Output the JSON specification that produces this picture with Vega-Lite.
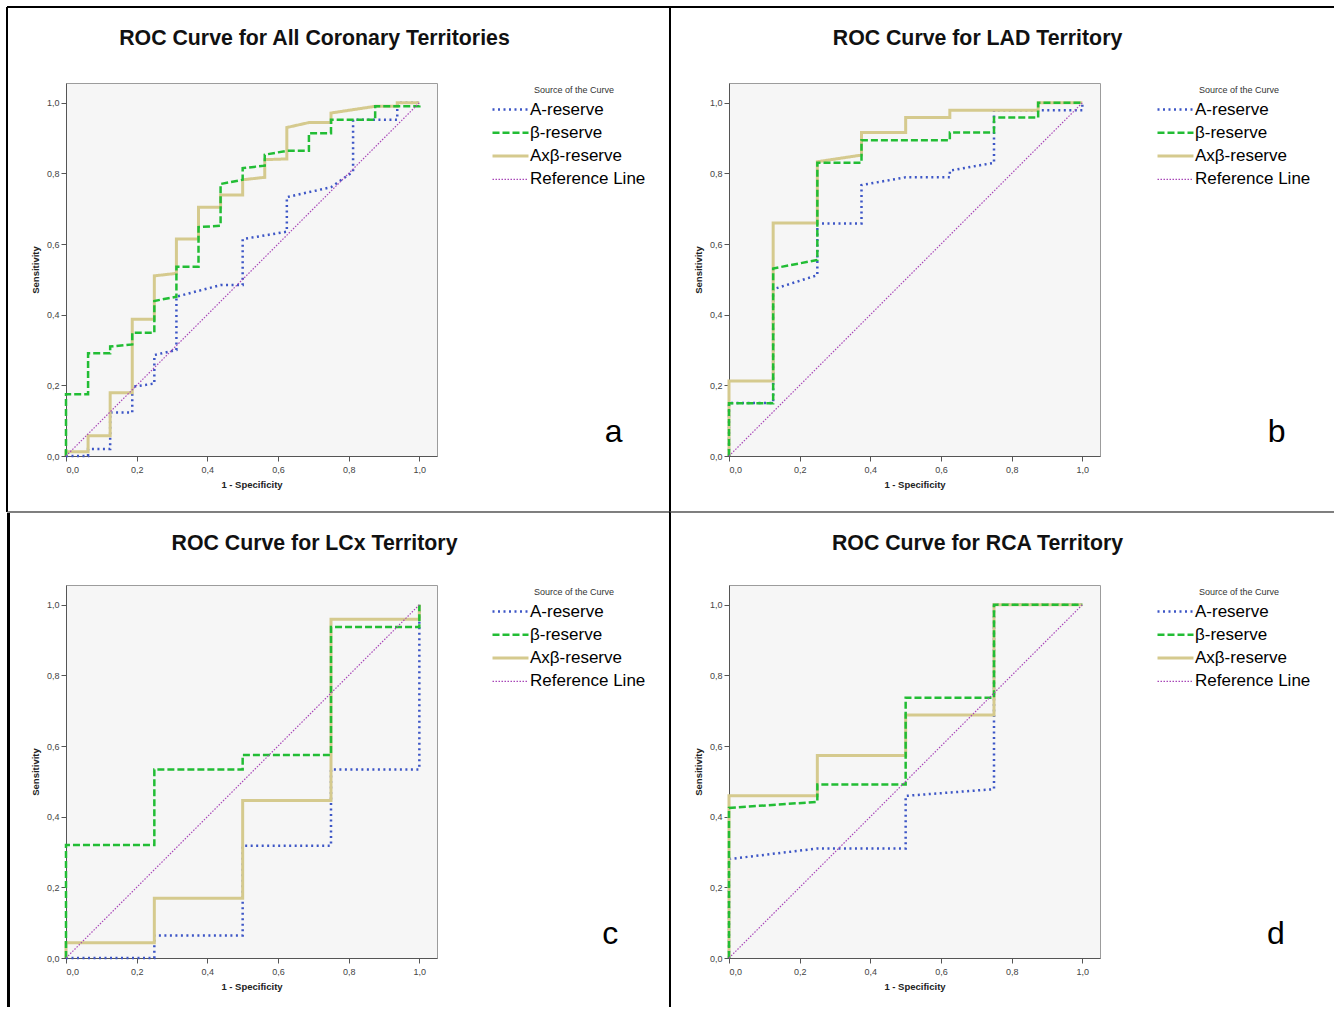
{
  "$schema": "https://vega.github.io/schema/vega-lite/v6.json",
  "background": "white",
  "padding": {"left": 5, "top": 5, "right": 0, "bottom": 0},
  "spacing": -4,
  "bounds": "full",
  "datasets": {
    "a": [
      {"s":"A-reserve","x":0,"y":0},{"s":"A-reserve","x":0.0625,"y":0},{"s":"A-reserve","x":0.0625,"y":0.02},{"s":"A-reserve","x":0.125,"y":0.02},{"s":"A-reserve","x":0.125,"y":0.123},{"s":"A-reserve","x":0.1875,"y":0.123},{"s":"A-reserve","x":0.1875,"y":0.196},{"s":"A-reserve","x":0.25,"y":0.205},{"s":"A-reserve","x":0.25,"y":0.286},{"s":"A-reserve","x":0.3125,"y":0.3},{"s":"A-reserve","x":0.3125,"y":0.451},{"s":"A-reserve","x":0.4375,"y":0.484},{"s":"A-reserve","x":0.5,"y":0.484},{"s":"A-reserve","x":0.5,"y":0.614},{"s":"A-reserve","x":0.625,"y":0.635},{"s":"A-reserve","x":0.625,"y":0.733},{"s":"A-reserve","x":0.75,"y":0.761},{"s":"A-reserve","x":0.8125,"y":0.805},{"s":"A-reserve","x":0.8125,"y":0.952},{"s":"A-reserve","x":0.9375,"y":0.952},{"s":"A-reserve","x":0.9375,"y":1},{"s":"A-reserve","x":1,"y":1},
      {"s":"Axβ-reserve","x":0,"y":0},{"s":"Axβ-reserve","x":0,"y":0.012},{"s":"Axβ-reserve","x":0.0625,"y":0.012},{"s":"Axβ-reserve","x":0.0625,"y":0.057},{"s":"Axβ-reserve","x":0.125,"y":0.057},{"s":"Axβ-reserve","x":0.125,"y":0.179},{"s":"Axβ-reserve","x":0.1875,"y":0.179},{"s":"Axβ-reserve","x":0.1875,"y":0.387},{"s":"Axβ-reserve","x":0.25,"y":0.387},{"s":"Axβ-reserve","x":0.25,"y":0.51},{"s":"Axβ-reserve","x":0.3125,"y":0.517},{"s":"Axβ-reserve","x":0.3125,"y":0.614},{"s":"Axβ-reserve","x":0.375,"y":0.614},{"s":"Axβ-reserve","x":0.375,"y":0.704},{"s":"Axβ-reserve","x":0.4375,"y":0.704},{"s":"Axβ-reserve","x":0.4375,"y":0.739},{"s":"Axβ-reserve","x":0.5,"y":0.739},{"s":"Axβ-reserve","x":0.5,"y":0.782},{"s":"Axβ-reserve","x":0.5625,"y":0.789},{"s":"Axβ-reserve","x":0.5625,"y":0.839},{"s":"Axβ-reserve","x":0.625,"y":0.841},{"s":"Axβ-reserve","x":0.625,"y":0.93},{"s":"Axβ-reserve","x":0.6875,"y":0.944},{"s":"Axβ-reserve","x":0.75,"y":0.944},{"s":"Axβ-reserve","x":0.75,"y":0.971},{"s":"Axβ-reserve","x":0.875,"y":0.99},{"s":"Axβ-reserve","x":0.9375,"y":0.99},{"s":"Axβ-reserve","x":0.9375,"y":1},{"s":"Axβ-reserve","x":1,"y":1},
      {"s":"β-reserve","x":0,"y":0},{"s":"β-reserve","x":0,"y":0.175},{"s":"β-reserve","x":0.0625,"y":0.175},{"s":"β-reserve","x":0.0625,"y":0.291},{"s":"β-reserve","x":0.125,"y":0.291},{"s":"β-reserve","x":0.125,"y":0.31},{"s":"β-reserve","x":0.1875,"y":0.316},{"s":"β-reserve","x":0.1875,"y":0.349},{"s":"β-reserve","x":0.25,"y":0.349},{"s":"β-reserve","x":0.25,"y":0.439},{"s":"β-reserve","x":0.3125,"y":0.451},{"s":"β-reserve","x":0.3125,"y":0.536},{"s":"β-reserve","x":0.375,"y":0.536},{"s":"β-reserve","x":0.375,"y":0.648},{"s":"β-reserve","x":0.4375,"y":0.652},{"s":"β-reserve","x":0.4375,"y":0.77},{"s":"β-reserve","x":0.5,"y":0.782},{"s":"β-reserve","x":0.5,"y":0.815},{"s":"β-reserve","x":0.5625,"y":0.822},{"s":"β-reserve","x":0.5625,"y":0.853},{"s":"β-reserve","x":0.625,"y":0.864},{"s":"β-reserve","x":0.6875,"y":0.864},{"s":"β-reserve","x":0.6875,"y":0.914},{"s":"β-reserve","x":0.75,"y":0.914},{"s":"β-reserve","x":0.75,"y":0.952},{"s":"β-reserve","x":0.875,"y":0.952},{"s":"β-reserve","x":0.875,"y":0.99},{"s":"β-reserve","x":1,"y":0.99},{"s":"β-reserve","x":1,"y":1},
      {"s":"Reference Line","x":0,"y":0},{"s":"Reference Line","x":1,"y":1}
    ],
    "b": [
      {"s":"A-reserve","x":0,"y":0},{"s":"A-reserve","x":0,"y":0.15},{"s":"A-reserve","x":0.125,"y":0.15},{"s":"A-reserve","x":0.125,"y":0.472},{"s":"A-reserve","x":0.25,"y":0.512},{"s":"A-reserve","x":0.25,"y":0.658},{"s":"A-reserve","x":0.375,"y":0.658},{"s":"A-reserve","x":0.375,"y":0.767},{"s":"A-reserve","x":0.5,"y":0.789},{"s":"A-reserve","x":0.625,"y":0.789},{"s":"A-reserve","x":0.625,"y":0.808},{"s":"A-reserve","x":0.75,"y":0.83},{"s":"A-reserve","x":0.75,"y":0.979},{"s":"A-reserve","x":1,"y":0.979},{"s":"A-reserve","x":1,"y":1},
      {"s":"Axβ-reserve","x":0,"y":0},{"s":"Axβ-reserve","x":0,"y":0.212},{"s":"Axβ-reserve","x":0.125,"y":0.212},{"s":"Axβ-reserve","x":0.125,"y":0.66},{"s":"Axβ-reserve","x":0.25,"y":0.66},{"s":"Axβ-reserve","x":0.25,"y":0.833},{"s":"Axβ-reserve","x":0.375,"y":0.852},{"s":"Axβ-reserve","x":0.375,"y":0.916},{"s":"Axβ-reserve","x":0.5,"y":0.916},{"s":"Axβ-reserve","x":0.5,"y":0.958},{"s":"Axβ-reserve","x":0.625,"y":0.958},{"s":"Axβ-reserve","x":0.625,"y":0.979},{"s":"Axβ-reserve","x":0.875,"y":0.979},{"s":"Axβ-reserve","x":0.875,"y":1},{"s":"Axβ-reserve","x":1,"y":1},
      {"s":"β-reserve","x":0,"y":0},{"s":"β-reserve","x":0,"y":0.149},{"s":"β-reserve","x":0.125,"y":0.149},{"s":"β-reserve","x":0.125,"y":0.531},{"s":"β-reserve","x":0.25,"y":0.555},{"s":"β-reserve","x":0.25,"y":0.83},{"s":"β-reserve","x":0.375,"y":0.83},{"s":"β-reserve","x":0.375,"y":0.894},{"s":"β-reserve","x":0.625,"y":0.894},{"s":"β-reserve","x":0.625,"y":0.916},{"s":"β-reserve","x":0.75,"y":0.916},{"s":"β-reserve","x":0.75,"y":0.958},{"s":"β-reserve","x":0.875,"y":0.958},{"s":"β-reserve","x":0.875,"y":1},{"s":"β-reserve","x":1,"y":1},
      {"s":"Reference Line","x":0,"y":0},{"s":"Reference Line","x":1,"y":1}
    ],
    "c": [
      {"s":"A-reserve","x":0,"y":0},{"s":"A-reserve","x":0.25,"y":0},{"s":"A-reserve","x":0.25,"y":0.064},{"s":"A-reserve","x":0.5,"y":0.064},{"s":"A-reserve","x":0.5,"y":0.318},{"s":"A-reserve","x":0.75,"y":0.318},{"s":"A-reserve","x":0.75,"y":0.534},{"s":"A-reserve","x":1,"y":0.534},{"s":"A-reserve","x":1,"y":1},
      {"s":"Axβ-reserve","x":0,"y":0},{"s":"Axβ-reserve","x":0,"y":0.043},{"s":"Axβ-reserve","x":0.25,"y":0.043},{"s":"Axβ-reserve","x":0.25,"y":0.169},{"s":"Axβ-reserve","x":0.5,"y":0.169},{"s":"Axβ-reserve","x":0.5,"y":0.446},{"s":"Axβ-reserve","x":0.75,"y":0.446},{"s":"Axβ-reserve","x":0.75,"y":0.959},{"s":"Axβ-reserve","x":1,"y":0.959},{"s":"Axβ-reserve","x":1,"y":1},
      {"s":"β-reserve","x":0,"y":0},{"s":"β-reserve","x":0,"y":0.32},{"s":"β-reserve","x":0.25,"y":0.32},{"s":"β-reserve","x":0.25,"y":0.534},{"s":"β-reserve","x":0.5,"y":0.534},{"s":"β-reserve","x":0.5,"y":0.575},{"s":"β-reserve","x":0.75,"y":0.575},{"s":"β-reserve","x":0.75,"y":0.937},{"s":"β-reserve","x":1,"y":0.937},{"s":"β-reserve","x":1,"y":1},
      {"s":"Reference Line","x":0,"y":0},{"s":"Reference Line","x":1,"y":1}
    ],
    "d": [
      {"s":"A-reserve","x":0,"y":0},{"s":"A-reserve","x":0,"y":0.28},{"s":"A-reserve","x":0.25,"y":0.31},{"s":"A-reserve","x":0.5,"y":0.31},{"s":"A-reserve","x":0.5,"y":0.459},{"s":"A-reserve","x":0.75,"y":0.478},{"s":"A-reserve","x":0.75,"y":1},{"s":"A-reserve","x":1,"y":1},
      {"s":"Axβ-reserve","x":0,"y":0},{"s":"Axβ-reserve","x":0,"y":0.459},{"s":"Axβ-reserve","x":0.25,"y":0.459},{"s":"Axβ-reserve","x":0.25,"y":0.573},{"s":"Axβ-reserve","x":0.5,"y":0.573},{"s":"Axβ-reserve","x":0.5,"y":0.688},{"s":"Axβ-reserve","x":0.75,"y":0.688},{"s":"Axβ-reserve","x":0.75,"y":1},{"s":"Axβ-reserve","x":1,"y":1},
      {"s":"β-reserve","x":0,"y":0},{"s":"β-reserve","x":0,"y":0.425},{"s":"β-reserve","x":0.25,"y":0.442},{"s":"β-reserve","x":0.25,"y":0.491},{"s":"β-reserve","x":0.5,"y":0.491},{"s":"β-reserve","x":0.5,"y":0.737},{"s":"β-reserve","x":0.75,"y":0.737},{"s":"β-reserve","x":0.75,"y":1},{"s":"β-reserve","x":1,"y":1},
      {"s":"Reference Line","x":0,"y":0},{"s":"Reference Line","x":1,"y":1}
    ]
  },
  "vconcat": [
    {
      "spacing": -4,
      "hconcat": [
        {
          "width": 371, "height": 373,
          "data": {"name": "a"},
          "title": {"text": "ROC Curve for All Coronary Territories", "dx": 63, "dy": 47},
          "layer": [
            {
              "mark": {"type": "line"},
              "encoding": {
                "x": {"field": "x", "type": "quantitative", "scale": {"domain": [0, 1.05], "nice": false, "zero": false}, "axis": {"title": "1 - Specificity", "values": [0, 0.2, 0.4, 0.6, 0.8, 1], "labelExpr": "replace(format(datum.value, '.1f'), '.', ',')"}},
                "y": {"field": "y", "type": "quantitative", "scale": {"domain": [0, 1.056], "nice": false, "zero": false}, "axis": {"title": "Sensitivity", "values": [0, 0.2, 0.4, 0.6, 0.8, 1], "labelExpr": "replace(format(datum.value, '.1f'), '.', ',')"}},
                "color": {"field": "s", "type": "nominal", "scale": {"domain": ["A-reserve", "β-reserve", "Axβ-reserve", "Reference Line"], "range": ["#3d56c6", "#22bd35", "#d5ca8e", "#a847b8"]}, "legend": {"title": "Source of the Curve", "orient": "none", "legendX": 436, "legendY": 3}},
                "strokeDash": {"field": "s", "type": "nominal", "scale": {"domain": ["A-reserve", "β-reserve", "Axβ-reserve", "Reference Line"], "range": [[2, 3.5], [7, 3], [1, 0], [1.5, 1.5]]}, "legend": {"title": "Source of the Curve", "orient": "none", "legendX": 436, "legendY": 3}},
                "strokeWidth": {"field": "s", "type": "nominal", "scale": {"type": "ordinal", "domain": ["A-reserve", "β-reserve", "Axβ-reserve", "Reference Line"], "range": [2.5, 2.5, 3, 1.2]}, "legend": {"title": "Source of the Curve", "orient": "none", "legendX": 436, "legendY": 3}},
                "order": {"value": null}
              }
            },
            {"data": {"values": [{}]}, "mark": {"type": "text", "fontSize": 32, "color": "#000", "align": "center", "baseline": "middle"}, "encoding": {"x": {"datum": 1.55}, "y": {"datum": 0.068}, "text": {"value": "a"}}},
            {"data": {"values": [{}]}, "mark": {"type": "rule", "color": "#000", "strokeWidth": 2}, "encoding": {"x": {"datum": -0.16698}, "x2": {"datum": 1.70943}, "y": {"datum": 1.27117}}},
            {"data": {"values": [{}]}, "mark": {"type": "rule", "color": "#000", "strokeWidth": 2}, "encoding": {"x": {"datum": -0.16698}, "y": {"datum": 1.27117}, "y2": {"datum": -0.15854}}},
            {"data": {"values": [{}]}, "mark": {"type": "rule", "color": "#000", "strokeWidth": 2}, "encoding": {"x": {"datum": 1.70943}, "y": {"datum": 1.27117}, "y2": {"datum": -0.15854}}},
            {"data": {"values": [{}]}, "mark": {"type": "rule", "color": "#555", "strokeWidth": 1}, "encoding": {"x": {"datum": -0.16698}, "x2": {"datum": 1.70943}, "y": {"datum": -0.15854}}}
          ]
        },
        {
          "width": 371, "height": 373,
          "data": {"name": "b"},
          "title": {"text": "ROC Curve for LAD Territory", "dx": 63, "dy": 47},
          "layer": [
            {
              "mark": {"type": "line"},
              "encoding": {
                "x": {"field": "x", "type": "quantitative", "scale": {"domain": [0, 1.05], "nice": false, "zero": false}, "axis": {"title": "1 - Specificity", "values": [0, 0.2, 0.4, 0.6, 0.8, 1], "labelExpr": "replace(format(datum.value, '.1f'), '.', ',')"}},
                "y": {"field": "y", "type": "quantitative", "scale": {"domain": [0, 1.056], "nice": false, "zero": false}, "axis": {"title": "Sensitivity", "values": [0, 0.2, 0.4, 0.6, 0.8, 1], "labelExpr": "replace(format(datum.value, '.1f'), '.', ',')"}},
                "color": {"field": "s", "type": "nominal", "scale": {"domain": ["A-reserve", "β-reserve", "Axβ-reserve", "Reference Line"], "range": ["#3d56c6", "#22bd35", "#d5ca8e", "#a847b8"]}, "legend": {"title": "Source of the Curve", "orient": "none", "legendX": 438, "legendY": 3}},
                "strokeDash": {"field": "s", "type": "nominal", "scale": {"domain": ["A-reserve", "β-reserve", "Axβ-reserve", "Reference Line"], "range": [[2, 3.5], [7, 3], [1, 0], [1.5, 1.5]]}, "legend": {"title": "Source of the Curve", "orient": "none", "legendX": 438, "legendY": 3}},
                "strokeWidth": {"field": "s", "type": "nominal", "scale": {"type": "ordinal", "domain": ["A-reserve", "β-reserve", "Axβ-reserve", "Reference Line"], "range": [2.5, 2.5, 3, 1.2]}, "legend": {"title": "Source of the Curve", "orient": "none", "legendX": 438, "legendY": 3}},
                "order": {"value": null}
              }
            },
            {"data": {"values": [{}]}, "mark": {"type": "text", "fontSize": 32, "color": "#000", "align": "center", "baseline": "middle"}, "encoding": {"x": {"datum": 1.55}, "y": {"datum": 0.068}, "text": {"value": "b"}}},
            {"data": {"values": [{}]}, "mark": {"type": "rule", "color": "#000", "strokeWidth": 2}, "encoding": {"x": {"datum": -0.16698}, "x2": {"datum": 1.71226}, "y": {"datum": 1.27117}}},
            {"data": {"values": [{}]}, "mark": {"type": "rule", "color": "#000", "strokeWidth": 2}, "encoding": {"x": {"datum": -0.16698}, "y": {"datum": 1.27117}, "y2": {"datum": -0.15854}}},
            {"data": {"values": [{}]}, "mark": {"type": "rule", "color": "#555", "strokeWidth": 1}, "encoding": {"x": {"datum": -0.16698}, "x2": {"datum": 1.71226}, "y": {"datum": -0.15854}}}
          ]
        }
      ],
      "resolve": {"scale": {"color": "independent", "strokeDash": "independent", "strokeWidth": "independent", "x": "independent", "y": "independent"}, "legend": {"color": "independent", "strokeDash": "independent", "strokeWidth": "independent"}}
    },
    {
      "spacing": -4,
      "hconcat": [
        {
          "width": 371, "height": 373,
          "data": {"name": "c"},
          "title": {"text": "ROC Curve for LCx Territory", "dx": 63, "dy": 47},
          "layer": [
            {
              "mark": {"type": "line"},
              "encoding": {
                "x": {"field": "x", "type": "quantitative", "scale": {"domain": [0, 1.05], "nice": false, "zero": false}, "axis": {"title": "1 - Specificity", "values": [0, 0.2, 0.4, 0.6, 0.8, 1], "labelExpr": "replace(format(datum.value, '.1f'), '.', ',')"}},
                "y": {"field": "y", "type": "quantitative", "scale": {"domain": [0, 1.056], "nice": false, "zero": false}, "axis": {"title": "Sensitivity", "values": [0, 0.2, 0.4, 0.6, 0.8, 1], "labelExpr": "replace(format(datum.value, '.1f'), '.', ',')"}},
                "color": {"field": "s", "type": "nominal", "scale": {"domain": ["A-reserve", "β-reserve", "Axβ-reserve", "Reference Line"], "range": ["#3d56c6", "#22bd35", "#d5ca8e", "#a847b8"]}, "legend": {"title": "Source of the Curve", "orient": "none", "legendX": 436, "legendY": 3}},
                "strokeDash": {"field": "s", "type": "nominal", "scale": {"domain": ["A-reserve", "β-reserve", "Axβ-reserve", "Reference Line"], "range": [[2, 3.5], [7, 3], [1, 0], [1.5, 1.5]]}, "legend": {"title": "Source of the Curve", "orient": "none", "legendX": 436, "legendY": 3}},
                "strokeWidth": {"field": "s", "type": "nominal", "scale": {"type": "ordinal", "domain": ["A-reserve", "β-reserve", "Axβ-reserve", "Reference Line"], "range": [2.5, 2.5, 3, 1.2]}, "legend": {"title": "Source of the Curve", "orient": "none", "legendX": 436, "legendY": 3}},
                "order": {"value": null}
              }
            },
            {"data": {"values": [{}]}, "mark": {"type": "text", "fontSize": 32, "color": "#000", "align": "center", "baseline": "middle"}, "encoding": {"x": {"datum": 1.54}, "y": {"datum": 0.068}, "text": {"value": "c"}}},
            {"data": {"values": [{}]}, "mark": {"type": "rule", "color": "#000", "strokeWidth": 3}, "encoding": {"x": {"datum": -0.16274}, "y": {"datum": 1.25984}, "y2": {"datum": -0.13872}}},
            {"data": {"values": [{}]}, "mark": {"type": "rule", "color": "#000", "strokeWidth": 2}, "encoding": {"x": {"datum": 1.70943}, "y": {"datum": 1.26267}, "y2": {"datum": -0.13872}}},
            {"data": {"values": [{}]}, "mark": {"type": "rule", "color": "#555", "strokeWidth": 1}, "encoding": {"x": {"datum": -0.16274}, "x2": {"datum": 1.70943}, "y": {"datum": 1.26267}}}
          ]
        },
        {
          "width": 371, "height": 373,
          "data": {"name": "d"},
          "title": {"text": "ROC Curve for RCA Territory", "dx": 63, "dy": 47},
          "layer": [
            {
              "mark": {"type": "line"},
              "encoding": {
                "x": {"field": "x", "type": "quantitative", "scale": {"domain": [0, 1.05], "nice": false, "zero": false}, "axis": {"title": "1 - Specificity", "values": [0, 0.2, 0.4, 0.6, 0.8, 1], "labelExpr": "replace(format(datum.value, '.1f'), '.', ',')"}},
                "y": {"field": "y", "type": "quantitative", "scale": {"domain": [0, 1.056], "nice": false, "zero": false}, "axis": {"title": "Sensitivity", "values": [0, 0.2, 0.4, 0.6, 0.8, 1], "labelExpr": "replace(format(datum.value, '.1f'), '.', ',')"}},
                "color": {"field": "s", "type": "nominal", "scale": {"domain": ["A-reserve", "β-reserve", "Axβ-reserve", "Reference Line"], "range": ["#3d56c6", "#22bd35", "#d5ca8e", "#a847b8"]}, "legend": {"title": "Source of the Curve", "orient": "none", "legendX": 438, "legendY": 3}},
                "strokeDash": {"field": "s", "type": "nominal", "scale": {"domain": ["A-reserve", "β-reserve", "Axβ-reserve", "Reference Line"], "range": [[2, 3.5], [7, 3], [1, 0], [1.5, 1.5]]}, "legend": {"title": "Source of the Curve", "orient": "none", "legendX": 438, "legendY": 3}},
                "strokeWidth": {"field": "s", "type": "nominal", "scale": {"type": "ordinal", "domain": ["A-reserve", "β-reserve", "Axβ-reserve", "Reference Line"], "range": [2.5, 2.5, 3, 1.2]}, "legend": {"title": "Source of the Curve", "orient": "none", "legendX": 438, "legendY": 3}},
                "order": {"value": null}
              }
            },
            {"data": {"values": [{}]}, "mark": {"type": "text", "fontSize": 32, "color": "#000", "align": "center", "baseline": "middle"}, "encoding": {"x": {"datum": 1.548}, "y": {"datum": 0.068}, "text": {"value": "d"}}},
            {"data": {"values": [{}]}, "mark": {"type": "rule", "color": "#000", "strokeWidth": 2}, "encoding": {"x": {"datum": -0.16698}, "y": {"datum": 1.26267}, "y2": {"datum": -0.13872}}},
            {"data": {"values": [{}]}, "mark": {"type": "rule", "color": "#555", "strokeWidth": 1}, "encoding": {"x": {"datum": -0.16698}, "x2": {"datum": 1.71226}, "y": {"datum": 1.26267}}}
          ]
        }
      ],
      "resolve": {"scale": {"color": "independent", "strokeDash": "independent", "strokeWidth": "independent", "x": "independent", "y": "independent"}, "legend": {"color": "independent", "strokeDash": "independent", "strokeWidth": "independent"}}
    }
  ],
  "resolve": {"scale": {"color": "independent", "strokeDash": "independent", "strokeWidth": "independent", "x": "independent", "y": "independent"}, "legend": {"color": "independent", "strokeDash": "independent", "strokeWidth": "independent"}},
  "config": {
    "font": "Liberation Sans",
    "view": {"fill": "#f6f6f6", "stroke": "#9c9c9c", "strokeWidth": 1},
    "line": {"clip": false},
    "text": {"font": "Liberation Sans"},
    "axis": {"grid": false, "domainColor": "#555", "tickColor": "#555", "tickSize": 5, "labelColor": "#444", "labelFontSize": 9, "labelFont": "Liberation Sans", "titleFont": "Liberation Sans", "titleFontSize": 9.5, "titleFontWeight": "bold", "titleColor": "#222"},
    "axisX": {"labelPadding": 4, "titlePadding": 5},
    "axisY": {"labelPadding": 2, "titlePadding": 6},
    "title": {"font": "Liberation Sans", "fontSize": 21.3, "fontWeight": "bold", "color": "#111", "anchor": "middle", "baseline": "alphabetic", "offset": 0},
    "legend": {"padding": 0, "titleFont": "Liberation Sans", "titleFontSize": 9, "titleFontWeight": "normal", "titleColor": "#333", "titleAnchor": "middle", "titlePadding": 6, "labelFont": "Liberation Sans", "labelFontSize": 17, "labelColor": "#000", "labelOffset": 11, "symbolType": "M-3,0H3", "symbolSize": 144, "rowPadding": 5.3}
  }
}
